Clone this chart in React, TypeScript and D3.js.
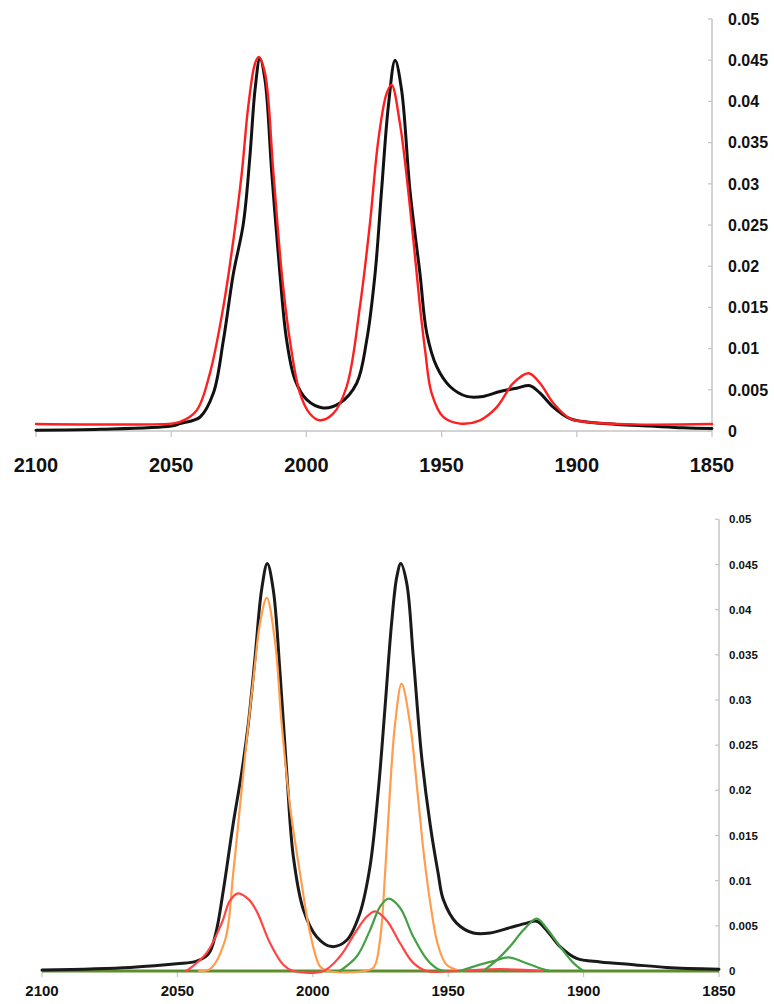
import React from "react";
import * as d3 from "d3";

// Wavenumber (cm-1) / absorbance pairs for each trace.
const topMeasured: [number, number][] = [
  [2100, 0.0001], [2076, 0.0002], [2050, 0.0006], [2046.7, 0.0009], [2039.3, 0.0017],
  [2034.4, 0.0046], [2030.7, 0.011], [2027.0, 0.0191], [2023.3, 0.0252], [2020.9, 0.0333],
  [2019.0, 0.0414], [2017.2, 0.0452], [2015.3, 0.0426], [2012.8, 0.0313], [2009.8, 0.0191],
  [2007.3, 0.011], [2004.2, 0.0062], [1999.9, 0.0038], [1993.8, 0.0028], [1987.6, 0.0034],
  [1981.4, 0.0058], [1977.7, 0.011], [1974.6, 0.0191], [1972.2, 0.0292], [1969.7, 0.0394],
  [1967.2, 0.045], [1964.8, 0.0414], [1961.7, 0.0292], [1958.0, 0.0191], [1955.5, 0.0119],
  [1951.8, 0.0078], [1946.9, 0.0054], [1940.7, 0.0042], [1934.6, 0.0042], [1928.4, 0.0048],
  [1922.2, 0.0052], [1917.3, 0.0055], [1913.6, 0.0046], [1908.7, 0.0029], [1902.5, 0.0015],
  [1896.3, 0.0011], [1885.2, 0.0008], [1872.9, 0.0006], [1860.6, 0.0004], [1850, 0.0003],
];

const topSimulated: [number, number][] = [
  [2100, 0.00085], [2050, 0.0009], [2046.7, 0.0011], [2040.6, 0.0025], [2035.7, 0.007],
  [2030.7, 0.0151], [2027.0, 0.0232], [2023.9, 0.0313], [2021.5, 0.0394], [2019.0, 0.0446],
  [2017.6, 0.0454], [2015.3, 0.0434], [2012.2, 0.0313], [2009.1, 0.0191], [2006.1, 0.011],
  [2002.4, 0.0046], [1998.7, 0.0021], [1995.0, 0.0013], [1990.1, 0.0021], [1985.1, 0.0054],
  [1980.2, 0.0151], [1976.5, 0.0252], [1973.4, 0.0353], [1970.3, 0.041], [1968.5, 0.042],
  [1965.4, 0.0373], [1961.7, 0.0272], [1958.0, 0.0151], [1956.1, 0.0098], [1953.7, 0.0046],
  [1949.4, 0.0017], [1943.2, 0.0009], [1935.8, 0.0013], [1929.6, 0.0029], [1923.5, 0.0058],
  [1917.9, 0.007], [1913.6, 0.0058], [1908.7, 0.0034], [1902.5, 0.0015], [1896.3, 0.0011],
  [1879.2, 0.0008], [1850, 0.00085],
];

const bottomMeasured: [number, number][] = [
  [2100, 0.0001], [2067.5, 0.0004], [2050.3, 0.0008], [2042.9, 0.0011], [2038.5, 0.0019],
  [2035.8, 0.0042], [2033.0, 0.009], [2029.4, 0.0163], [2026.3, 0.0219], [2023.8, 0.0274],
  [2021.3, 0.0348], [2018.9, 0.0422], [2016.8, 0.0451], [2014.6, 0.0422], [2012.1, 0.033],
  [2009.6, 0.0219], [2007.2, 0.0127], [2003.5, 0.0068], [1998.6, 0.0038], [1993.0, 0.0027],
  [1987.5, 0.0034], [1982.6, 0.0064], [1978.9, 0.0115], [1975.8, 0.02], [1973.3, 0.0293],
  [1970.9, 0.0385], [1969.0, 0.0436], [1967.5, 0.0451], [1965.3, 0.0429], [1962.9, 0.0348],
  [1959.8, 0.0237], [1956.7, 0.0163], [1953.7, 0.0108], [1951.8, 0.0079], [1946.9, 0.0053],
  [1940.7, 0.0042], [1934.6, 0.0042], [1927.2, 0.0048], [1921.0, 0.0053], [1917.3, 0.0055],
  [1913.6, 0.0045], [1908.7, 0.0027], [1902.6, 0.0014], [1893.9, 0.001], [1881.6, 0.0007],
  [1869.3, 0.0004], [1850, 0.0002],
];

const fitOrange: [number, number][] = [
  [2042, 0], [2038.0, 0.0002], [2032.4, 0.0034], [2029.4, 0.0108], [2026.9, 0.0182],
  [2024.4, 0.0256], [2021.7, 0.033], [2019.5, 0.0385], [2017.0, 0.0413], [2014.0, 0.0366],
  [2011.5, 0.0274], [2008.4, 0.0182], [2004.7, 0.0108], [2001.0, 0.0042], [1997.3, 0.0005],
  [1994.5, 0], [1981, 0], [1977.5, 0.0004], [1975.2, 0.0034], [1973.3, 0.0108],
  [1971.5, 0.02], [1969.6, 0.0274], [1967.2, 0.0318], [1964.1, 0.0274], [1961.4, 0.02],
  [1958.9, 0.0127], [1956.4, 0.0071], [1953.8, 0.0029], [1950.6, 0.0007], [1945.0, 0],
];

const fitRed: [number, number][] = [
  [2046.6, 0], [2039.2, 0.002], [2033.5, 0.0054], [2030.6, 0.0078], [2027.5, 0.0086],
  [2023.6, 0.0079], [2020.7, 0.0066], [2015.8, 0.0031], [2010.9, 0.0007], [2007.2, 0],
  [1996.1, 0], [1990.0, 0.0016], [1983.8, 0.0045], [1980.1, 0.006], [1977.0, 0.0066],
  [1972.7, 0.0056], [1967.8, 0.0031], [1962.9, 0.0009], [1957.9, 0], [1946.9, 0],
  [1930.9, 0.0002], [1914.9, 0],
];

const fitGreenA: [number, number][] = [
  [1990.0, 0], [1983.8, 0.0016], [1978.9, 0.0045], [1975.2, 0.0071], [1972.1, 0.008],
  [1967.8, 0.007], [1962.9, 0.0038], [1957.9, 0.0013], [1953.7, 0.0002], [1951.2, 0],
];

const fitGreenB: [number, number][] = [
  [1945.7, 0], [1939.5, 0.0006], [1933.3, 0.0011], [1927.8, 0.0015], [1922.3, 0.001],
  [1916.1, 0.0003], [1912.4, 0],
];

const fitGreenC: [number, number][] = [
  [1937.0, 0], [1932.1, 0.0012], [1927.2, 0.0027], [1922.3, 0.0045], [1917.3, 0.0058],
  [1913.6, 0.0047], [1908.7, 0.0027], [1903.8, 0.0009], [1900.1, 0],
];

const xTickValues = [2100, 2050, 2000, 1950, 1900, 1850];
const xTickLabels = ["2100", "2050", "2000", "1950", "1900", "1850"];
const yTickValues = [0, 0.005, 0.01, 0.015, 0.02, 0.025, 0.03, 0.035, 0.04, 0.045, 0.05];
const yTickLabels = ["0", "0.005", "0.01", "0.015", "0.02", "0.025", "0.03", "0.035", "0.04", "0.045", "0.05"];

const FONT = "'Liberation Sans', Arial, sans-serif";
const AXIS = "#c4c4c4";

type Series = { data: [number, number][]; color: string; width: number };

function Panel(props: {
  x0: number; x1: number; y0: number; y1: number;
  xFont: number; xLabelY: number; yFont: number; yLabelX: number;
  series: Series[]; baseline?: string;
}) {
  const { x0, x1, y0, y1, xFont, xLabelY, yFont, yLabelX, series, baseline } = props;
  const x = d3.scaleLinear().domain([2100, 1850]).range([x0, x1]);
  const y = d3.scaleLinear().domain([0, 0.05]).range([y0, y1]);
  const line = d3
    .line<[number, number]>()
    .x((d) => x(d[0]))
    .y((d) => Math.min(y0, y(d[1])))
    .curve(d3.curveCatmullRom.alpha(0.5));
  return (
    <g>
      {/* x axis */}
      <line x1={x0} x2={x1} y1={y0} y2={y0} stroke={AXIS} strokeWidth={1.5} />
      {xTickValues.map((v, i) => (
        <g key={v}>
          <line x1={x(v)} x2={x(v)} y1={y0} y2={y0 + 6} stroke={AXIS} strokeWidth={1.2} />
          <text
            x={x(v)}
            y={xLabelY}
            textAnchor="middle"
            fontFamily={FONT}
            fontWeight="bold"
            fontSize={xFont}
            fill="#111"
          >
            {xTickLabels[i]}
          </text>
        </g>
      ))}
      {/* y axis on the right */}
      <line x1={x1} x2={x1} y1={y0} y2={y1} stroke={AXIS} strokeWidth={1.5} />
      {yTickValues.map((v, i) => (
        <g key={v}>
          <line x1={x1 - 4} x2={x1} y1={y(v)} y2={y(v)} stroke={AXIS} strokeWidth={1.2} />
          <text
            x={yLabelX}
            y={y(v)}
            dy="0.36em"
            fontFamily={FONT}
            fontWeight="bold"
            fontSize={yFont}
            fill="#111"
          >
            {yTickLabels[i]}
          </text>
        </g>
      ))}
      {baseline && (
        <line x1={x0} x2={x1} y1={y0} y2={y0} stroke={baseline} strokeWidth={3} />
      )}
      {series.map((s, i) => (
        <path
          key={i}
          d={line(s.data) || ""}
          fill="none"
          stroke={s.color}
          strokeWidth={s.width}
          strokeLinejoin="round"
          strokeLinecap="round"
        />
      ))}
    </g>
  );
}

export default function App() {
  return (
    <svg
      width={774}
      height={1004}
      style={{ position: "absolute", left: 0, top: 0, background: "#fff" }}
    >
      <rect width={774} height={1004} fill="#fff" />
      <Panel
        x0={36}
        x1={712}
        y0={431}
        y1={19}
        xFont={20}
        xLabelY={472}
        yFont={16}
        yLabelX={728}
        series={[
          { data: topMeasured, color: "#111", width: 3 },
          { data: topSimulated, color: "#ff1f1f", width: 2.4 },
        ]}
      />
      <Panel
        x0={42}
        x1={719}
        y0={971}
        y1={519.3}
        xFont={15}
        xLabelY={996}
        yFont={11.5}
        yLabelX={729}
        baseline="#5f8c2c"
        series={[
          { data: bottomMeasured, color: "#1a1a1a", width: 3 },
          { data: fitOrange, color: "#ff9d4d", width: 2.2 },
          { data: fitRed, color: "#ff4545", width: 2.2 },
          { data: fitGreenA, color: "#45a045", width: 2.2 },
          { data: fitGreenB, color: "#45a045", width: 2.2 },
          { data: fitGreenC, color: "#45a045", width: 2.2 },
        ]}
      />
    </svg>
  );
}
